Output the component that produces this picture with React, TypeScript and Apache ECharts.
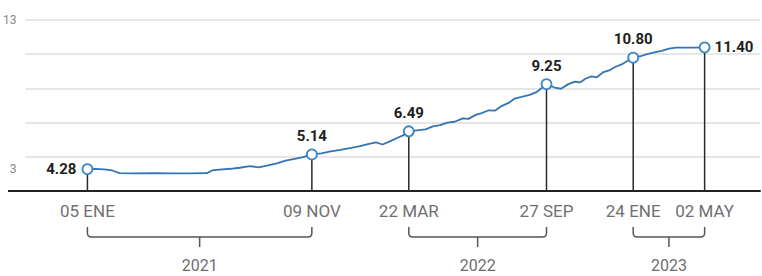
import React, { useEffect, useRef } from "react";
import * as echarts from "echarts";

const rateDates = [
  "2021-01-05", "2021-01-15", "2021-01-28", "2021-02-08", "2021-02-18", "2021-03-10", "2021-04-05",
  "2021-05-01", "2021-05-25", "2021-06-18", "2021-06-25", "2021-07-05", "2021-07-20", "2021-08-02",
  "2021-08-16", "2021-08-28", "2021-09-10", "2021-09-22", "2021-10-04", "2021-10-18", "2021-10-28",
  "2021-11-09", "2021-11-22", "2021-12-05", "2021-12-18", "2022-01-02", "2022-01-14", "2022-01-25",
  "2022-02-05", "2022-02-14", "2022-02-24", "2022-03-06", "2022-03-14", "2022-03-22", "2022-04-02",
  "2022-04-14", "2022-04-24", "2022-05-04", "2022-05-14", "2022-05-24", "2022-06-04", "2022-06-12",
  "2022-06-22", "2022-06-30", "2022-07-10", "2022-07-18", "2022-07-28", "2022-08-06", "2022-08-14",
  "2022-08-24", "2022-09-04", "2022-09-14", "2022-09-27", "2022-10-08", "2022-10-17", "2022-10-27",
  "2022-11-05", "2022-11-12", "2022-11-20", "2022-11-28", "2022-12-05", "2022-12-14", "2022-12-22",
  "2022-12-30", "2023-01-08", "2023-01-16", "2023-01-24", "2023-02-03", "2023-02-12", "2023-02-22",
  "2023-03-04", "2023-03-14", "2023-03-24", "2023-04-05", "2023-04-18", "2023-05-02",
];
const rateValues = [
  4.28, 4.29, 4.27, 4.2, 4.05, 4.03, 4.04,
  4.03, 4.03, 4.04, 4.2, 4.25, 4.3, 4.36,
  4.46, 4.38, 4.5, 4.62, 4.78, 4.9, 4.98,
  5.14, 5.2, 5.32, 5.4, 5.52, 5.62, 5.74,
  5.84, 5.72, 5.9, 6.1, 6.25, 6.49, 6.55,
  6.6, 6.78, 6.85, 7.0, 7.05, 7.25, 7.22,
  7.45, 7.55, 7.72, 7.7, 7.98, 8.15, 8.4,
  8.5, 8.62, 8.8, 9.25, 9.05, 8.98, 9.25,
  9.4, 9.35, 9.58, 9.7, 9.65, 9.95, 10.05,
  10.25, 10.4, 10.6, 10.8, 10.88, 11.0, 11.1,
  11.2, 11.32, 11.38, 11.38, 11.39, 11.4,
];

const milestoneDates = ["2021-01-05", "2021-11-09", "2022-03-22", "2022-09-27", "2023-01-24", "2023-05-02"];
const milestoneValues = [4.28, 5.14, 6.49, 9.25, 10.8, 11.4];
const milestoneLabels = ["05 ENE", "09 NOV", "22 MAR", "27 SEP", "24 ENE", "02 MAY"];

const yearLabels = ["2021", "2022", "2023"];
const yearStarts = ["2021-01-05", "2022-03-22", "2023-01-24"];
const yearEnds = ["2021-11-09", "2022-09-27", "2023-05-02"];

const yMin = 3;
const yMax = 13;
const yInterval = 2;
const yTickLabels = ["3", "13"];

const xMin = "2020-10-12";
const xMax = "2023-07-17";

const ts = (d: string) => Date.parse(d + "T00:00:00Z");

export default function App() {
  const ref = useRef<HTMLDivElement>(null);

  useEffect(() => {
    document.body.style.margin = "0";
    const chart = echarts.init(ref.current!, null, { renderer: "svg" });
    const font = "Roboto, 'Noto Sans', sans-serif";
    const lineData = rateDates.map((d, i) => [ts(d), rateValues[i]]);
    const msData = milestoneDates.map((d, i) => [ts(d), milestoneValues[i]]);
    const yearData = yearStarts.map((d, i) => [ts(d), ts(yearEnds[i])]);

    chart.setOption({
      animation: false,
      grid: { left: 25, right: 2, top: 20, bottom: 85 },
      xAxis: {
        type: "time",
        min: ts(xMin),
        max: ts(xMax),
        axisLine: { show: true, lineStyle: { color: "#222", width: 2 } },
        axisTick: { show: false },
        splitLine: { show: false },
        axisLabel: { show: false },
      },
      yAxis: {
        type: "value",
        min: yMin,
        max: yMax,
        interval: yInterval,
        axisLine: { show: false },
        axisTick: { show: false },
        splitLine: { lineStyle: { color: "#dedede", width: 1.5 } },
        axisLabel: {
          margin: 9,
          fontFamily: font,
          fontSize: 12,
          color: "#888",
          formatter: (v: number) => {
            const s = String(v);
            if (!yTickLabels.includes(s)) return "";
            return v === yMin ? "{low|" + s + "}" : s;
          },
          rich: {
            low: { fontFamily: font, fontSize: 12, color: "#888", padding: [0, 0, 44, 0] },
          },
        },
      },
      graphic: [
        { type: "line", shape: { x1: 8, y1: 191, x2: 26, y2: 191 }, style: { stroke: "#222", lineWidth: 2 } },
      ],
      series: [
        {
          type: "line",
          name: "tasa",
          data: lineData,
          showSymbol: false,
          lineStyle: { color: "#3574b4", width: 1.8 },
          z: 3,
        },
        {
          type: "custom",
          name: "hitos",
          data: msData,
          z: 5,
          clip: false,
          renderItem: (params: any, api: any) => {
            const i = params.dataIndex;
            const x = api.value(0);
            const y = api.value(1);
            const p = api.coord([x, y]);
            const base = api.coord([x, yMin]);
            const n = milestoneDates.length;
            let label: any;
            const txt = milestoneValues[i].toFixed(2);
            const ts2 = { fontFamily: font, fontWeight: "bold", fontSize: 15, fill: "#1e1e1e" };
            if (i === 0) {
              label = { type: "text", x: p[0] - 11, y: p[1], style: { ...ts2, text: txt, align: "right", verticalAlign: "middle" } };
            } else if (i === n - 1) {
              label = { type: "text", x: p[0] + 10, y: p[1], style: { ...ts2, text: txt, align: "left", verticalAlign: "middle" } };
            } else {
              label = { type: "text", x: p[0], y: p[1] - 11, style: { ...ts2, text: txt, align: "center", verticalAlign: "bottom" } };
            }
            return {
              type: "group",
              children: [
                { type: "line", shape: { x1: p[0], y1: p[1], x2: base[0], y2: base[1] }, style: { stroke: "#2a2a2a", lineWidth: 1.5 } },
                { type: "circle", shape: { cx: p[0], cy: p[1], r: 5 }, style: { fill: "#fff", stroke: "#3d87c4", lineWidth: 1.8 } },
                label,
                {
                  type: "text",
                  x: base[0],
                  y: base[1] + 20,
                  style: { text: milestoneLabels[i], fontFamily: font, fontSize: 17, fill: "#707070", align: "center", verticalAlign: "middle" },
                },
              ],
            };
          },
        },
        {
          type: "custom",
          name: "años",
          data: yearData,
          z: 5,
          clip: false,
          renderItem: (params: any, api: any) => {
            const i = params.dataIndex;
            const a = api.coord([api.value(0), yMin]);
            const b = api.coord([api.value(1), yMin]);
            const top = a[1] + 36;
            const bot = a[1] + 46;
            const r = 4;
            const mid = (a[0] + b[0]) / 2;
            const d =
              `M${a[0]},${top} L${a[0]},${bot - r} Q${a[0]},${bot} ${a[0] + r},${bot} ` +
              `L${b[0] - r},${bot} Q${b[0]},${bot} ${b[0]},${bot - r} L${b[0]},${top} ` +
              `M${mid},${bot} L${mid},${bot + 10}`;
            return {
              type: "group",
              children: [
                { type: "path", shape: { pathData: d }, style: { fill: "none", stroke: "#555", lineWidth: 1.5 } },
                {
                  type: "text",
                  x: mid,
                  y: bot + 28,
                  style: { text: yearLabels[i], fontFamily: font, fontSize: 16, fill: "#6e6e6e", align: "center", verticalAlign: "middle" },
                },
              ],
            };
          },
        },
      ],
    });
    return () => chart.dispose();
  }, []);

  return <div ref={ref} style={{ width: 762, height: 276 }} />;
}
